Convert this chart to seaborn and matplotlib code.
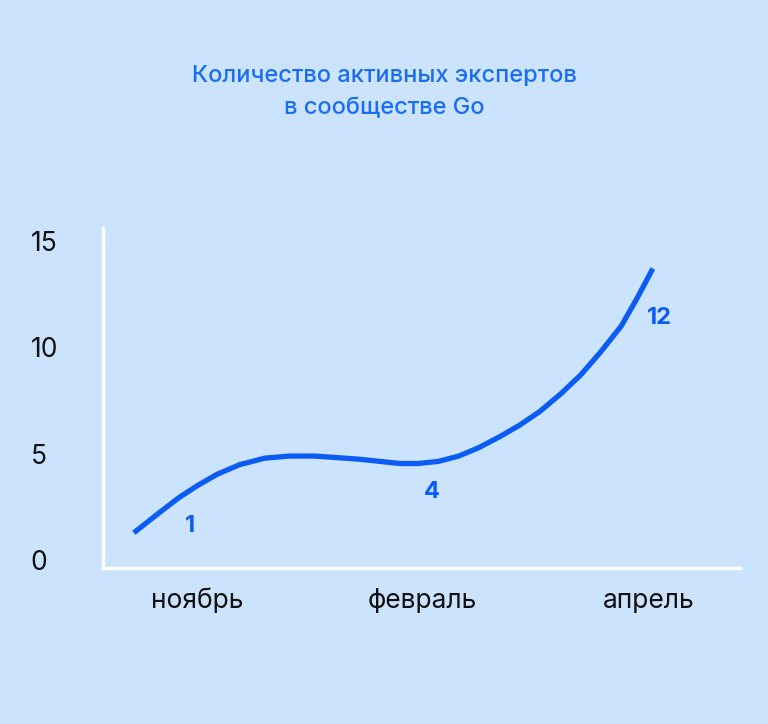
import matplotlib
matplotlib.use("Agg")
import matplotlib.pyplot as plt
import seaborn as sns
import pandas as pd

categories = ["ноябрь", "февраль", "апрель"]
cat_values = [1, 4, 12]
# curve samples (x in category units)
curve_x = [-0.28, -0.22, -0.16, -0.08, 0.0, 0.09, 0.19, 0.30, 0.41, 0.52, 0.63, 0.72, 0.81,
           0.90, 0.98, 1.07, 1.16, 1.25, 1.34, 1.43, 1.52, 1.61, 1.70, 1.79, 1.88, 1.95, 2.02]
curve_y = [1.3, 1.8, 2.3, 2.95, 3.5, 4.05, 4.5, 4.8, 4.9, 4.9, 4.82, 4.75, 4.65,
           4.55, 4.55, 4.65, 4.9, 5.3, 5.8, 6.35, 7.0, 7.8, 8.7, 9.8, 11.0, 12.3, 13.7]
label_x = [-0.03, 1.04, 2.05]
label_y = [1.6, 3.2, 11.4]

sns.set_theme(style="white")
plt.rcParams['font.family'] = ['Inter', 'DejaVu Sans']
bg = "#cce3fd"
blue = "#0a5cf5"

fig = plt.figure(figsize=(7.68, 7.24), dpi=100, facecolor=bg)
ax = fig.add_axes([0.134, 0.215, 0.83, 0.47])
ax.set_facecolor(bg)
df = pd.DataFrame({"x": curve_x, "y": curve_y})
sns.lineplot(data=df, x="x", y="y", ax=ax, color=blue, linewidth=3.8, sort=False,
             solid_capstyle="butt", solid_joinstyle="round")
for lx, ly, v in zip(label_x, label_y, cat_values):
    ax.text(lx, ly, str(v), color=blue, fontsize=17, fontweight="bold", ha="center", va="center")

ax.set_xlim(-0.417, 2.408)
ax.set_ylim(-0.37, 15.6)
ax.set_xticks([0, 1, 2])
ax.set_xticklabels(categories)
ax.set_yticks([0, 5, 10, 15])
ax.tick_params(axis="both", length=0, labelsize=19, colors="#111111")
ax.tick_params(axis="x", pad=14)
ax.tick_params(axis="y", pad=52)
for lbl in ax.get_yticklabels():
    lbl.set_horizontalalignment("left")
ax.set_xlabel("")
ax.set_ylabel("")
for s in ["top", "right"]:
    ax.spines[s].set_visible(False)
for s in ["left", "bottom"]:
    ax.spines[s].set_color("white")
    ax.spines[s].set_linewidth(2.5)

fig.text(0.5, 0.873, "Количество активных экспертов\nв сообществе Go", color="#1a6ef0",
         fontsize=17, fontweight="medium", ha="center", va="center", linespacing=1.6)
fig.savefig("out.png", dpi=100, facecolor=bg)
